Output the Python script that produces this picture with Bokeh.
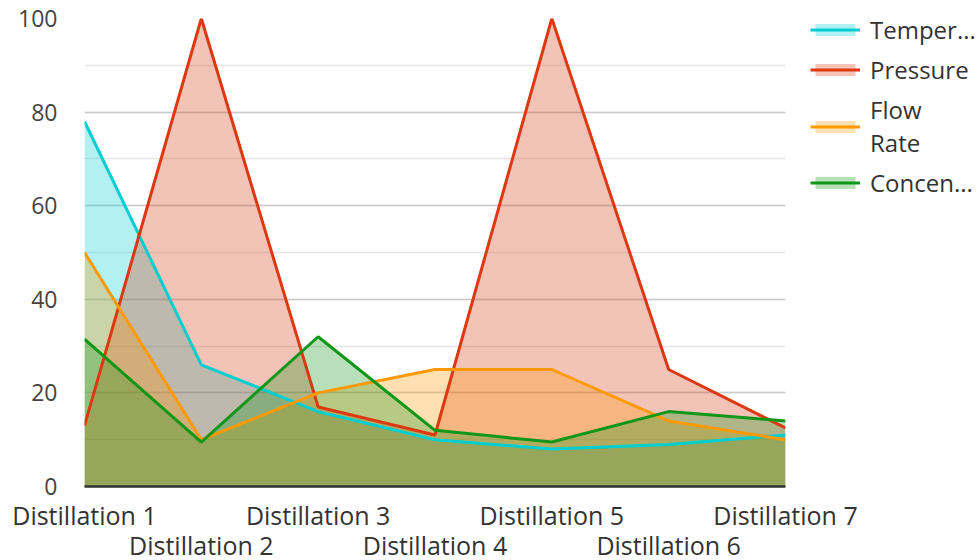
from bokeh.plotting import figure
from bokeh.models import (Range1d, LinearAxis, FixedTicker, SingleIntervalTicker,
                          Legend, LegendItem)
from bokeh.embed import file_html
from bokeh.resources import INLINE

categories = ["Distillation 1", "Distillation 2", "Distillation 3", "Distillation 4",
              "Distillation 5", "Distillation 6", "Distillation 7"]
temperature = [78, 26, 16, 10, 8, 9, 11]
pressure = [13, 100, 17, 11, 100, 25, 12.5]
flow_rate = [50, 10, 20, 25, 25, 14, 10]
concentration = [31.5, 9.5, 32, 12, 9.5, 16, 14]

series_names = ["Temper...", "Pressure", "Flow\nRate", "Concen..."]
series_values = [temperature, pressure, flow_rate, concentration]
colors = ["#00CED1", "#DC3912", "#FF9900", "#109618"]

FONT = "Open Sans"
YFS = "23px"
XFS = "25px"
LFS = "24px"

x = list(range(len(categories)))

p = figure(frame_width=701, frame_height=468, output_backend="svg", toolbar_location=None,
           x_range=Range1d(0, len(categories) - 1), y_range=Range1d(0, 100),
           x_axis_location=None, y_axis_location=None,
           min_border_left=84, min_border_right=190, min_border_top=18, min_border_bottom=73)
p.outline_line_color = None
p.background_fill_color = "white"

areas = []
for vals, c in zip(series_values, colors):
    areas.append(p.varea(x=x, y1=[0] * len(vals), y2=vals, fill_color=c, fill_alpha=0.3))
lines = []
for vals, c in zip(series_values, colors):
    lines.append(p.line(x=x, y=vals, line_color=c, line_width=3))

items = [LegendItem(label=n, renderers=[a, l]) for n, a, l in zip(series_names, areas, lines)]

# y axis
yaxis = LinearAxis(ticker=SingleIntervalTicker(interval=20, num_minor_ticks=2))
yaxis.axis_line_color = None
yaxis.major_tick_line_color = None
yaxis.minor_tick_line_color = None
yaxis.major_tick_out = 0
yaxis.major_tick_in = 0
yaxis.minor_tick_out = 0
yaxis.major_label_standoff = 27
yaxis.major_label_text_font = FONT
yaxis.major_label_text_font_size = YFS
yaxis.major_label_text_color = "#444444"
p.add_layout(yaxis, "left")

p.xgrid.visible = False
p.ygrid.ticker = yaxis.ticker
p.ygrid.grid_line_color = "#cccccc"
p.ygrid.grid_line_width = 1.5
p.ygrid.minor_grid_line_color = "#e6e6e6"
p.ygrid.minor_grid_line_width = 1.5

odd = [i for i in x if i % 2 == 0]
even = [i for i in x if i % 2 == 1]

def make_xaxis(ticks, standoff, line):
    ax = LinearAxis(ticker=FixedTicker(ticks=ticks, minor_ticks=[]),
                    major_label_overrides={i: categories[i] for i in ticks})
    if line:
        ax.axis_line_color = "#333333"
        ax.axis_line_width = 2.5
    else:
        ax.axis_line_color = None
    ax.major_tick_line_color = None
    ax.minor_tick_line_color = None
    ax.major_tick_out = 0
    ax.major_tick_in = 0
    ax.minor_tick_out = 0
    ax.major_label_standoff = standoff
    ax.major_label_text_font = FONT
    ax.major_label_text_font_size = XFS
    ax.major_label_text_color = "#333333"
    return ax

p.add_layout(make_xaxis(odd, 11, True), "below")
p.add_layout(make_xaxis(even, -7, False), "below")

legend = Legend(items=items, location=(25, 287))
legend.border_line_color = None
legend.background_fill_alpha = 0
legend.padding = 0
legend.margin = 0
legend.glyph_width = 50
legend.glyph_height = 15
legend.label_height = 32
legend.spacing = 7
legend.label_standoff = 10
legend.label_text_font = FONT
legend.label_text_font_size = LFS
legend.label_text_color = "#333333"
p.add_layout(legend, "right")

open("out.html", "w").write(file_html(p, INLINE))
